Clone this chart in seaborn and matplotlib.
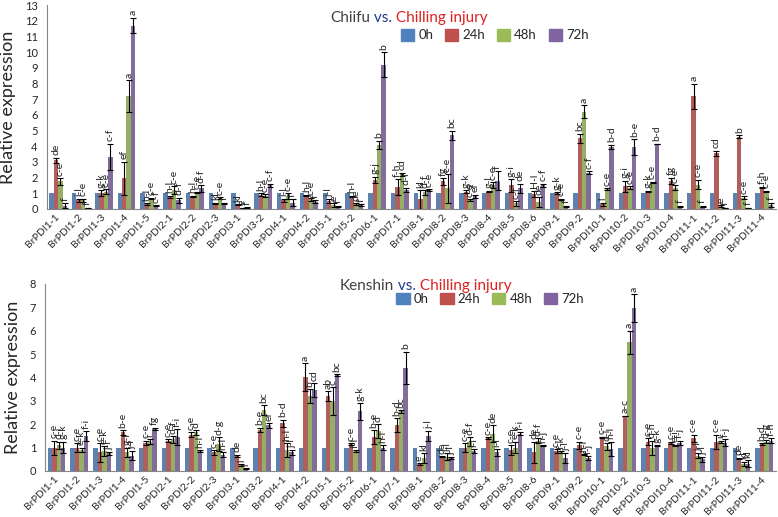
import pandas as pd
import seaborn as sns
import matplotlib.pyplot as plt
import matplotlib.transforms as mtransforms

genes = ["BrPDI1-1", "BrPDI1-2", "BrPDI1-3", "BrPDI1-4", "BrPDI1-5", "BrPDI2-1", "BrPDI2-2", "BrPDI2-3",
         "BrPDI3-1", "BrPDI3-2", "BrPDI4-1", "BrPDI4-2", "BrPDI5-1", "BrPDI5-2", "BrPDI6-1", "BrPDI7-1",
         "BrPDI8-1", "BrPDI8-2", "BrPDI8-3", "BrPDI8-4", "BrPDI8-5", "BrPDI8-6", "BrPDI9-1", "BrPDI9-2",
         "BrPDI10-1", "BrPDI10-2", "BrPDI10-3", "BrPDI10-4", "BrPDI11-1", "BrPDI11-2", "BrPDI11-3", "BrPDI11-4"]
times = ["0h", "24h", "48h", "72h"]
colors = ["#4F81BD", "#C0504D", "#9BBB59", "#8064A2"]

# Chiifu
chiifu_0h = [1, 1, 1, 1, 1, 1, 1, 1, 1, 1, 1, 1, 1, 1, 1, 1,
             1, 1, 1, 1, 1, 1, 1, 1, 1, 1, 1, 1, 1, 1, 1, 1]
chiifu_24h = [3.1, 0.55, 1.0, 1.95, 0.3, 0.75, 0.8, 0.35, 0.25, 0.9, 0.55, 0.85, 0.5, 0.8, 1.85, 1.4,
              0.6, 1.75, 1.1, 1.1, 1.5, 0.95, 1.0, 4.5, 0.3, 1.45, 1.1, 1.8, 7.2, 3.55, 4.6, 1.35]
chiifu_48h = [1.75, 0.55, 1.1, 7.2, 0.65, 1.2, 1.05, 0.7, 0.05, 0.85, 0.8, 0.6, 0.25, 0.3, 4.1, 2.2,
              1.05, 1.3, 0.55, 1.5, 0.35, 0.45, 0.6, 6.2, 1.25, 1.35, 1.7, 1.35, 1.55, 0.2, 0.72, 1.1]
chiifu_72h = [0.2, 0.05, 3.3, 11.7, 0.2, 0.55, 1.3, 0.35, 0.1, 1.5, 0.4, 0.45, 0.15, 0.25, 9.2, 1.2,
              1.2, 4.7, 0.8, 1.8, 1.3, 1.5, 0.15, 2.3, 3.95, 3.95, 4.15, 0.15, 0.15, 0.05, 0.05, 0.25]
chiifu_24h_err = [0.15, 0.1, 0.2, 1.05, 0.05, 0.08, 0.05, 0.05, 0.03, 0.1, 0.1, 0.05, 0.1, 0.05, 0.2, 0.5,
                  0.6, 0.2, 0.1, 0.05, 0.4, 0.2, 0.05, 0.3, 0.1, 0.35, 0.05, 0.2, 0.8, 0.15, 0.1, 0.05]
chiifu_48h_err = [0.2, 0.1, 0.15, 1.0, 0.05, 0.25, 0.05, 0.05, 0.02, 0.1, 0.2, 0.1, 0.1, 0.05, 0.25, 0.1,
                  0.15, 0.9, 0.05, 0.2, 0.15, 0.3, 0.05, 0.4, 0.05, 0.1, 0.02, 0.15, 0.3, 0.05, 0.1, 0.05]
chiifu_72h_err = [0.15, 0.02, 0.85, 0.5, 0.03, 0.15, 0.2, 0.05, 0.02, 0.1, 0.2, 0.1, 0.05, 0.05, 0.8, 0.15,
                  0.05, 0.3, 0.1, 0.6, 0.3, 0.1, 0.05, 0.1, 0.15, 0.5, 0.02, 0.05, 0.05, 0.02, 0.02, 0.15]
chiifu_24h_lab = ["de", "i-l", "g-k", "ef", "h-l", "h-l", "h-l", "kl", "kl", "h-l", "i-l", "h-l", "j-l", "h-l", "g-j", "f-h",
                  "kl", "fg", "g-k", "g-l", "g-i", "H-l", "g-k", "bc", "l", "g-i", "g-k", "fg", "a", "cd", "b", "f-h"]
chiifu_48h_lab = ["c-e", "c-e", "c-e", "a", "c-e", "c-e", "c-e", "c-e", "e", "c-e", "c-e", "c-e", "e", "de", "b", "cd",
                  "d-f", "c-e", "c-e", "c-e", "c-f", "de", "c-e", "a", "c-e", "c-e", "c-e", "c-e", "c-e", "e", "c-e", "c-e"]
chiifu_72h_lab = ["f", "f", "c-f", "a", "c-f", "d-f", "d-f", "f", "f", "c-f", "f", "f", "f", "f", "b", "d-f",
                  "c-e", "bc", "ef", "f", "de", "c-f", "f", "c-f", "b-d", "b-e", "b-d", "f", "f", "f", "f", "f"]

# Kenshin
kenshin_0h = [1, 1, 1, 1, 1, 1, 1, 1, 1, 1, 1, 1, 1, 1, 1, 1,
              1, 1, 1, 1, 1, 1, 1, 1, 1, 1, 1, 1, 1, 1, 1, 1]
kenshin_24h = [1.0, 1.0, 0.8, 1.65, 1.2, 1.3, 1.55, 0.8, 0.65, 1.75, 2.05, 4.0, 3.2, 1.15, 1.45, 1.95,
               0.3, 0.6, 1.0, 1.4, 0.9, 0.8, 0.85, 1.1, 1.45, 2.35, 1.25, 1.2, 1.4, 1.25, 0.55, 1.15]
kenshin_48h = [1.1, 0.9, 0.85, 0.8, 1.25, 1.35, 1.65, 1.15, 0.25, 2.6, 0.9, 3.2, 3.0, 0.85, 1.7, 2.55,
               0.55, 0.6, 1.25, 1.6, 1.0, 1.3, 0.8, 0.7, 1.05, 5.5, 1.0, 1.1, 0.65, 1.25, 0.3, 1.25]
kenshin_72h = [1.0, 1.5, 0.75, 0.65, 1.8, 1.45, 0.85, 0.7, 0.1, 1.95, 0.8, 3.45, 4.1, 2.55, 1.0, 4.4,
               1.5, 0.55, 0.85, 0.8, 1.6, 1.1, 0.55, 0.55, 0.95, 6.95, 1.1, 1.2, 0.5, 1.2, 0.3, 1.3]
kenshin_24h_err = [0.3, 0.2, 0.4, 0.1, 0.1, 0.05, 0.1, 0.1, 0.05, 0.1, 0.15, 0.6, 0.2, 0.05, 0.3, 0.3,
                   0.03, 0.02, 0.2, 0.05, 0.2, 0.45, 0.1, 0.15, 0.02, 0.02, 0.15, 0.05, 0.15, 0.3, 0.02, 0.03]
kenshin_48h_err = [0.15, 0.1, 0.2, 0.2, 0.1, 0.15, 0.1, 0.3, 0.05, 0.2, 0.3, 0.3, 0.6, 0.03, 0.3, 0.05,
                   0.2, 0.15, 0.2, 0.35, 0.25, 0.1, 0.05, 0.03, 0.15, 0.5, 0.3, 0.03, 0.1, 0.05, 0.1, 0.07]
kenshin_72h_err = [0.25, 0.2, 0.05, 0.2, 0.05, 0.35, 0.05, 0.1, 0.03, 0.1, 0.1, 0.3, 0.05, 0.35, 0.1, 0.7,
                   0.2, 0.03, 0.1, 0.15, 0.05, 0.02, 0.2, 0.1, 0.3, 0.6, 0.02, 0.1, 0.1, 0.15, 0.15, 0.1]
kenshin_24h_lab = ["c-e", "c-e", "c-e", "b-e", "c-e", "c-e", "c-e", "c-e", "de", "b-e", "b-d", "a", "ab", "c-e", "b-e", "b-d",
                   "e", "de", "c-e", "c-e", "c-e", "de", "c-e", "c-e", "c-e", "a-c", "c-e", "c-e", "c-e", "c-e", "de", "b-d"]
kenshin_48h_lab = ["d-i", "e-k", "e-k", "g-l", "i", "d-f", "d", "d-g", "l", "bc", "h-l", "b", "c", "f-l", "d", "bc",
                   "kl", "i-l", "d-f", "de", "e-k", "d-f", "f-k", "h-l", "d-i", "a", "d-h", "e-i", "j-l", "i", "kl", "d-g"]
kenshin_72h_lab = ["g-k", "f-i", "j-l", "j-l", "fg", "f-i", "h-l", "h-l", "l", "ef", "j-l", "cd", "bc", "g-k", "h-l", "b",
                   "j-l", "j-l", "i-l", "i-l", "f-i", "h-j", "j-l", "f-j", "h-l", "a", "g-k", "f-j", "j-l", "f-j", "kl", "f-h"]

FONT = "Lato"


def draw_panel(ax, values, errors, letters, ymax, name, title_xy, legend_xy):
    df = pd.DataFrame({
        "gene": genes * 4,
        "time": [t for t in times for _ in genes],
        "value": [v for series in values for v in series],
    })
    sns.barplot(data=df, x="gene", y="value", hue="time", palette=colors,
                errorbar=None, width=0.78, linewidth=0, ax=ax, legend=False)

    bar_groups = list(ax.containers)
    for i, bars in enumerate(bar_groups):
        for j, bar in enumerate(bars):
            xc = bar.get_x() + bar.get_width() / 2
            h = bar.get_height()
            err = errors[i][j] if i > 0 else 0
            if err > 0:
                ax.errorbar(xc, h, yerr=err, color="black", capsize=2,
                            elinewidth=0.8, capthick=0.8)
            if i > 0 and letters[i - 1][j]:
                ax.text(xc, h + err + ymax * 0.012, letters[i - 1][j], rotation=90,
                        ha="center", va="bottom", fontsize=7.5, color="#222222",
                        family=FONT)

    ax.set_xlim(-0.5, len(genes) - 0.5)
    ax.set_ylim(0, ymax)
    ax.set_yticks(range(0, ymax + 1))
    ax.set_xlabel("")
    ax.set_ylabel("Relative expression", fontsize=13, family=FONT, labelpad=6)
    ax.set_xticks(range(len(genes)))
    ax.set_xticklabels(genes, rotation=45, ha="right", va="center",
                       rotation_mode="anchor", fontsize=7.5, family=FONT)
    shift = mtransforms.ScaledTranslation(7 / 100, 0, ax.figure.dpi_scale_trans)
    for lab in ax.get_xticklabels():
        lab.set_transform(lab.get_transform() + shift)
    ax.set_xticks([k + 0.5 for k in range(-1, len(genes))], minor=True)
    ax.tick_params(axis="x", which="major", length=0, pad=5)
    ax.tick_params(axis="x", which="minor", length=4, color="#868686")
    ax.tick_params(axis="y", length=3, labelsize=8, color="#868686")
    for lab in ax.get_yticklabels():
        lab.set_family(FONT)
    for s in ["top", "right"]:
        ax.spines[s].set_visible(False)
    for s in ["left", "bottom"]:
        ax.spines[s].set_color("#868686")
        ax.spines[s].set_linewidth(0.8)

    fig = ax.figure
    t = fig.text(title_xy[0], title_xy[1], name, fontsize=11, color="#404040",
                 family=FONT, va="baseline")
    t = ax.annotate(" vs.", xy=(1, 0), xycoords=t, va="bottom", fontsize=11,
                    color="#1F3A8A", family=FONT)
    ax.annotate(" Chilling injury", xy=(1, 0), xycoords=t, va="bottom", fontsize=11,
                color="#E02020", family=FONT)

    handles = [plt.Rectangle((0, 0), 1, 1, color=c) for c in colors]
    fig.legend(handles, times, loc="center", bbox_to_anchor=legend_xy, ncol=4,
               frameon=False, handlelength=1.0, handleheight=1.0,
               handletextpad=0.3, columnspacing=0.9, prop={"family": FONT, "size": 9.5})


sns.set_theme(style="white")
fig = plt.figure(figsize=(7.78, 5.17), dpi=100)
ax_top = fig.add_axes([0.060, 0.596, 0.937, 0.394])
ax_bot = fig.add_axes([0.058, 0.089, 0.939, 0.362])

draw_panel(ax_top, [chiifu_0h, chiifu_24h, chiifu_48h, chiifu_72h],
           [[], chiifu_24h_err, chiifu_48h_err, chiifu_72h_err],
           [chiifu_24h_lab, chiifu_48h_lab, chiifu_72h_lab],
           13, "Chiifu", (0.424, 0.957), (0.636, 0.932))
draw_panel(ax_bot, [kenshin_0h, kenshin_24h, kenshin_48h, kenshin_72h],
           [[], kenshin_24h_err, kenshin_48h_err, kenshin_72h_err],
           [kenshin_24h_lab, kenshin_48h_lab, kenshin_72h_lab],
           8, "Kenshin", (0.437, 0.439), (0.630, 0.422))

fig.savefig("out.png", dpi=100)
